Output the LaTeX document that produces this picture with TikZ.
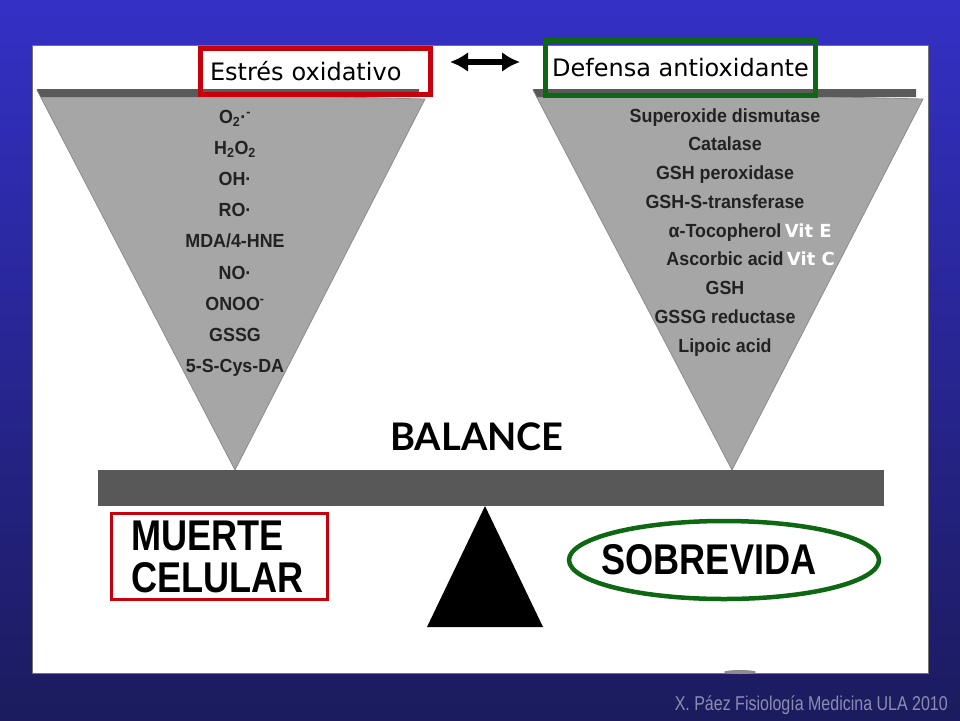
\documentclass[tikz,border=0pt]{standalone}
\usepackage{fontspec}
\usetikzlibrary{positioning,arrows.meta,shapes.geometric}
\newfontfamily\labelfont{DejaVu Sans}
\newfontfamily\listfont[FakeStretch=0.94]{Liberation Sans}
\newfontfamily\balancefont{Lato}
\newfontfamily\narrowfont[FakeStretch=0.84]{Liberation Sans}
\newfontfamily\footfont[FakeStretch=0.8]{Liberation Sans}
\definecolor{bgtop}{RGB}{52,48,198}
\definecolor{bgbottom}{RGB}{27,27,94}
\definecolor{stressred}{RGB}{200,0,12}
\definecolor{defensegreen}{RGB}{14,104,18}
\definecolor{wedgegray}{RGB}{166,166,166}
\definecolor{stripgray}{RGB}{90,90,90}
\definecolor{beamgray}{RGB}{88,88,88}
\definecolor{listink}{RGB}{34,34,34}
\definecolor{footgray}{RGB}{140,140,178}

\begin{document}
\begin{tikzpicture}[x=1pt,y=-1pt,>={Latex[length=18pt,width=20pt]}]
	\tikzstyle{header}=[draw,line width=5pt,inner sep=0pt,font=\labelfont\fontsize{24}{28}\selectfont]
	\tikzstyle{stress box}=[header,draw=stressred,minimum width=230pt,minimum height=46pt,inner xsep=9.5pt,text width=211pt,align=left]
	\tikzstyle{defense box}=[header,draw=defensegreen,minimum width=270pt,minimum height=55pt]
	\tikzstyle{item}=[inner sep=1pt,text=listink,text height=14pt,text depth=4pt,font=\listfont\bfseries\fontsize{19}{21}\selectfont]
	\tikzstyle{vitamin}=[inner sep=0pt,text=white,font=\labelfont\bfseries\fontsize{18}{20}\selectfont]
	\tikzstyle{balance}=[font=\balancefont\bfseries\fontsize{38}{40}\selectfont]
	\tikzstyle{beam}=[fill=beamgray,minimum width=786pt,minimum height=36pt,inner sep=0pt]
	\tikzstyle{outcome}=[line width=3pt,inner sep=0pt,font=\narrowfont\bfseries\fontsize{43}{42}\selectfont]
	\tikzstyle{footer}=[text=footgray,inner sep=0pt,font=\footfont\fontsize{20}{22}\selectfont]

	% Background and white panel
	\useasboundingbox (0,0) rectangle (960,720);
	\shade[top color=bgtop,bottom color=bgbottom] (0,0) rectangle (960,720);
	\filldraw[fill=white,draw=black!55,line width=0.6pt] (32,45) rectangle (928,673);

	% Draw the two wedges
	\filldraw[fill=wedgegray,draw=black!45,line width=0.8pt] (37,90) -- (425,99) -- (235,470) -- cycle;
	\fill[stripgray] (37,89) -- (419,89) -- (419,97) -- (41,97) -- cycle;
	\filldraw[fill=wedgegray,draw=black!45,line width=0.8pt] (533,90) -- (923,99) -- (732,470) -- cycle;
	\fill[stripgray] (533,89) -- (916,89) -- (916,97) -- (537,97) -- cycle;

	% Draw the headers
	\node[stress box] (stress) at (315.5,71.5) {Estrés oxidativo};
	\node[defense box] (defense) at (680.5,68) {Defensa antioxidante};
	\draw[<->,line width=6pt,shorten <=17pt,shorten >=23pt] ([yshift=9.5pt]stress.east) -- ([yshift=6pt]defense.west);

	% Draw the oxidant list
	\foreach \name [count=\y] in {{O\textsubscript{2}·\textsuperscript{-}},{H\textsubscript{2}O\textsubscript{2}},OH·,RO·,MDA/4-HNE,NO·,{ONOO\textsuperscript{-}},GSSG,5-S-Cys-DA}
	\node[item] (S-\y) at (235,{118+31.2*(\y-1)}) {\name};

	% Draw the antioxidant list
	\foreach \name [count=\y] in {Superoxide dismutase,Catalase,GSH peroxidase,GSH-S-transferase,α-Tocopherol,Ascorbic acid,GSH,GSSG reductase,Lipoic acid}
	\node[item] (D-\y) at (725,{117+28.75*(\y-1)}) {\name};
	\node[vitamin,right=2pt of D-5.base east,anchor=base west] (vitE) {Vit E};
	\node[vitamin,right=2pt of D-6.base east,anchor=base west] (vitC) {Vit C};

	% Draw the balance
	\node[balance] (balance) at (477,437) {BALANCE};
	\node[beam] (beam) at (491,488) {};
	\fill[black] (485,506) -- (543,627) -- (427,627) -- cycle;
	\fill[black!45] (740,672) ellipse [x radius=16, y radius=2];

	% Annotate the outcomes
	\node[outcome,draw=stressred,minimum width=216pt,minimum height=86pt,inner xsep=19.5pt,text width=177pt,align=left] (muerte) at (219.5,556.5) {MUERTE\\CELULAR};
	\node[outcome] (sobrevida) at (709,560) {SOBREVIDA};
	\draw[defensegreen,line width=4.5pt] ([xshift=15pt]sobrevida.center) ellipse [x radius=155, y radius=39];

	\node[footer,anchor=east] (credit) at (948,705) {X. Páez Fisiología Medicina ULA 2010};
\end{tikzpicture}
\end{document}
